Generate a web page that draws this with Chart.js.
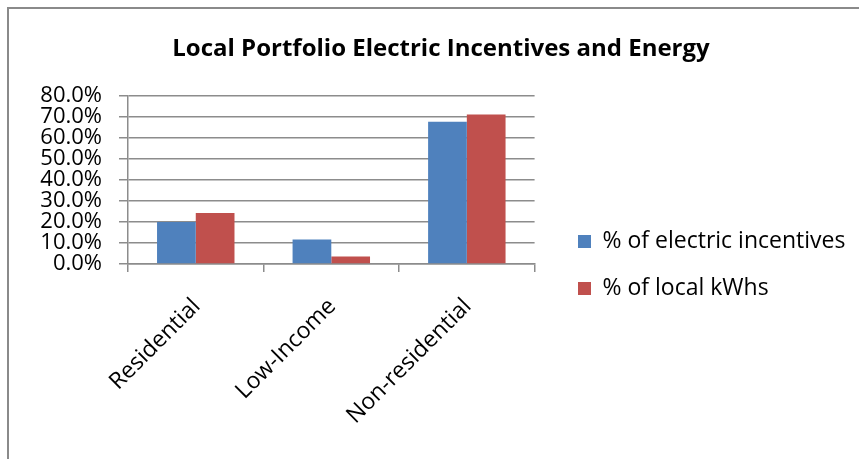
<!DOCTYPE html>
<html>
<head>
<meta charset="utf-8">
<script src="https://cdn.jsdelivr.net/npm/chart.js@4.4.1/dist/chart.umd.min.js"></script>
<style>
  html, body { margin: 0; padding: 0; background: #fff; }
  #wrap { position: relative; width: 859px; height: 459px; }
  #frame {
    position: absolute; left: 7px; top: 7px; right: 0; bottom: 0;
    border-left: 2px solid #8a8a8a; border-top: 2px solid #8a8a8a;
  }
  canvas { position: absolute; left: 0; top: 0; }
</style>
</head>
<body>
<div id="wrap">
  <div id="frame"></div>
  <canvas id="chart" width="859" height="459"></canvas>
</div>
<script>
const categories = ['Residential', 'Low-Income', 'Non-residential'];
const incentiveShare = [20.0, 11.6, 67.6];
const kwhShare = [24.3, 3.6, 71.1];
const seriesNames = ['% of electric incentives', '% of local kWhs'];
const yMax = 80;
const yStep = 10;

const FONT = "'Open Sans', sans-serif";
const gridGray = '#8c8c8c';
const legendFont = 23, legendBox = 13, legendPad = 24;

// legend width from its text, so the plot can end at x=535
const ctx = document.getElementById('chart').getContext('2d');
ctx.font = legendFont + 'px ' + FONT;
const widest = Math.max(...seriesNames.map(s => ctx.measureText(s).width));
const legendCap = Math.ceil(legendPad + legendBox + legendFont / 2 + widest + 14);
const legendNatural = legendCap - 5;
const rightPad = Math.max(0, 859 - 535 - legendNatural);

// pin legend and title where they sit in the Excel layout
const boxPlacer = {
  id: 'boxPlacer',
  afterLayout(chart) {
    const lg = chart.legend;
    const w = lg.width, h = lg.height;
    lg.left = 578 - legendPad; lg.right = lg.left + w;
    lg.top = 206; lg.bottom = lg.top + h;
    const t = chart.titleBlock;
    t.left = 23; t.right = 859; t.width = t.right - t.left;
  }
};

new Chart(ctx, {
  type: 'bar',
  data: {
    labels: categories,
    datasets: [
      { label: seriesNames[0], data: incentiveShare, backgroundColor: '#4F81BD' },
      { label: seriesNames[1], data: kwhShare, backgroundColor: '#C0504D' }
    ]
  },
  plugins: [boxPlacer],
  options: {
    responsive: false,
    animation: false,
    layout: { padding: { left: 8, top: 10, right: rightPad, bottom: 0 } },
    datasets: { bar: { categoryPercentage: 2 / 3.5, barPercentage: 1 } },
    plugins: {
      title: {
        display: true,
        text: 'Local Portfolio Electric Incentives and Energy',
        color: '#000',
        font: { family: FONT, size: 24, weight: 'bold' },
        padding: { top: 25, bottom: 32 }
      },
      legend: {
        position: 'right',
        align: 'start',
        maxWidth: legendCap,
        labels: {
          color: '#000',
          font: { family: FONT, size: legendFont },
          boxWidth: legendBox,
          boxHeight: legendBox,
          padding: legendPad
        }
      },
      tooltip: { enabled: false }
    },
    scales: {
      x: {
        grid: { offset: true, drawOnChartArea: false, color: gridGray, lineWidth: 1.5, tickLength: 8 },
        border: { color: gridGray, width: 1.5 },
        ticks: {
          color: '#000',
          font: { family: FONT, size: 23 },
          minRotation: 45,
          maxRotation: 45,
          padding: 21,
          labelOffset: 1
        },
        afterFit(scale) { scale.height = 459 - 264; }
      },
      y: {
        min: 0,
        max: yMax,
        grid: { color: gridGray, lineWidth: 1.5, tickLength: 9 },
        border: { color: gridGray, width: 1.5 },
        ticks: {
          stepSize: yStep,
          autoSkip: false,
          color: '#000',
          font: { family: FONT, size: 22 },
          padding: 17,
          callback: v => v.toFixed(1) + '%'
        },
        afterFit(scale) { scale.width = 128 - 8; }
      }
    }
  }
});
</script>
</body>
</html>
